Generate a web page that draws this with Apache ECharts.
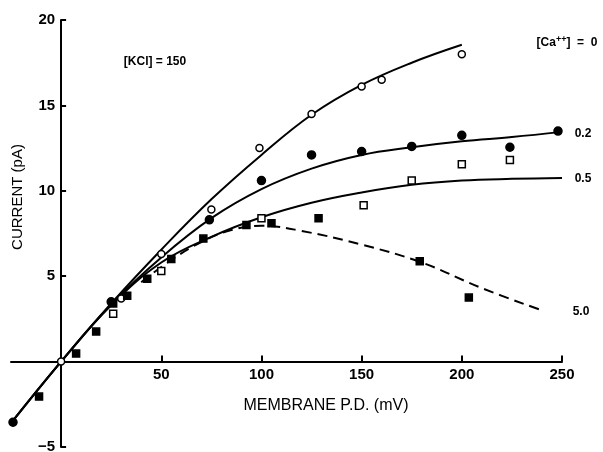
<!DOCTYPE html>
<html>
<head>
<meta charset="utf-8">
<script src="https://cdn.jsdelivr.net/npm/echarts@6/dist/echarts.min.js"></script>
<style>html,body{margin:0;padding:0;background:#fff}#c{width:603px;height:452px}</style>
</head>
<body>
<div id="c"></div>
<script>
// ---- data ----
const xMin = -25, xMax = 250;
const yMin = -5, yMax = 20;
const xTickValues = [50, 100, 150, 200, 250];
const yTickValues = [-5, 5, 10, 15, 20];

// fitted curves [mV, pA]
const curveCa0 = [[-25,-3.6],[0,0],[25,3.4],[50,6.55],[75,9.5],[100,12.1],[125,14.45],[150,16.2],[175,17.5],[200,18.55]];
const curveCa02 = [[-25,-3.6],[0,0],[25,3.35],[50,6.1],[75,8.4],[100,10.1],[125,11.3],[150,12.1],[175,12.55],[200,12.9],[225,13.15],[250,13.45]];
const curveCa05 = [[-25,-3.6],[0,0],[25,3.3],[50,5.8],[75,7.3],[100,8.45],[125,9.3],[150,9.9],[175,10.35],[200,10.6],[225,10.7],[250,10.75]];
const curveCa50 = [[40,4.65],[55,5.95],[70,7.0],[85,7.7],[100,7.95],[120,7.65],[150,6.85],[180,5.8],[210,4.3],[240,3.0]];

// measured points
const pointsCa0 = [[0,0],[30,3.7],[50,6.3],[75,8.9],[99,12.5],[125,14.5],[150,16.1],[160,16.5],[200,18.0]];
const pointsCa02 = [[-24,-3.55],[25,3.5],[74,8.3],[100,10.6],[125,12.1],[150,12.3],[175,12.6],[200,13.25],[224,12.55],[248,13.5]];
const pointsCa05 = [[26,2.8],[50,5.3],[100,8.4],[151,9.15],[175,10.6],[200,11.55],[224,11.8]];
const pointsCa50 = [[-11,-2.05],[7.5,0.47],[17.5,1.76],[26,3.4],[33,3.85],[43,4.85],[55,6.0],[71,7.2],[92.5,8.0],[105,8.1],[128.5,8.4],[179,5.87],[203.5,3.75]];

const W = 603, H = 452;
const grid = { left: 11, right: 41, top: 20, bottom: 5 };
// axes cross at zero: shift each axis from the grid edge to the other axis' zero
const yAxisShift = (0 - xMin) / (xMax - xMin) * (W - grid.left - grid.right);
const xAxisShift = (0 - yMin) / (yMax - yMin) * (H - grid.top - grid.bottom);

const chart = echarts.init(document.getElementById('c'));
const font = '"Liberation Sans", "DejaVu Sans", Arial, sans-serif';
const lineSeries = (data, dashed) => ({
  type: 'line', data, smooth: 0.4, showSymbol: false, symbol: 'none',
  lineStyle: { color: '#000', width: 2, type: dashed ? [10, 6] : 'solid' }, z: 2
});
const pointSeries = (data, symbol, size, fill) => ({
  type: 'scatter', data, symbol, symbolSize: size,
  itemStyle: { color: fill, borderColor: '#000', borderWidth: 1.5, opacity: 1 }, z: 3
});
const tickLabel = v => String(v).replace('-', '\u2212');
chart.setOption({
  animation: false,
  backgroundColor: '#fff',
  grid: Object.assign({ containLabel: false, outerBoundsMode: 'none' }, grid),
  xAxis: {
    type: 'value', min: xMin, max: xMax, offset: -xAxisShift,
    splitLine: { show: false },
    axisLine: { onZero: false, lineStyle: { color: '#000', width: 2 } },
    axisTick: { inside: true, length: 6, customValues: xTickValues, lineStyle: { color: '#000', width: 2 } },
    axisLabel: { customValues: xTickValues, formatter: tickLabel, color: '#000', fontSize: 15, fontWeight: 'bold', fontFamily: font, margin: 6 }
  },
  yAxis: {
    type: 'value', min: yMin, max: yMax, interval: 5, offset: -yAxisShift,
    splitLine: { show: false },
    axisLine: { onZero: false, lineStyle: { color: '#000', width: 2 } },
    axisTick: { inside: true, length: 5, customValues: yTickValues, lineStyle: { color: '#000', width: 2 } },
    axisLabel: { customValues: yTickValues, formatter: tickLabel, color: '#000', fontSize: 15, fontWeight: 'bold', fontFamily: font, margin: 6 }
  },
  graphic: [
    { type: 'text', x: 18, y: 197, rotation: Math.PI / 2,
      style: { text: 'CURRENT (pA)', font: '15px ' + font, fill: '#000', align: 'center', verticalAlign: 'middle' } },
    { type: 'text', x: 326, y: 406,
      style: { text: 'MEMBRANE P.D. (mV)', font: '16px ' + font, fill: '#000', align: 'center', verticalAlign: 'middle' } },
    { type: 'text', x: 155, y: 62,
      style: { text: '[KCl] = 150', font: 'bold 12px ' + font, fill: '#000', align: 'center', verticalAlign: 'middle' } },
    { type: 'text', x: 567, y: 43,
      style: { text: '[Ca{s|++}]  =  0', font: 'bold 12px ' + font, fill: '#000', align: 'center', verticalAlign: 'middle',
        rich: { s: { fontSize: 9, fontWeight: 'bold', fontFamily: font, padding: [0, 0, 6, 0] } } } },
    { type: 'text', x: 583, y: 134,
      style: { text: '0.2', font: 'bold 12px ' + font, fill: '#000', align: 'center', verticalAlign: 'middle' } },
    { type: 'text', x: 583, y: 179,
      style: { text: '0.5', font: 'bold 12px ' + font, fill: '#000', align: 'center', verticalAlign: 'middle' } },
    { type: 'text', x: 581, y: 312,
      style: { text: '5.0', font: 'bold 12px ' + font, fill: '#000', align: 'center', verticalAlign: 'middle' } }
  ],
  series: [
    lineSeries(curveCa0, false),
    lineSeries(curveCa02, false),
    lineSeries(curveCa05, false),
    lineSeries(curveCa50, true),
    pointSeries(pointsCa0, 'circle', 7, '#fff'),
    pointSeries(pointsCa02, 'circle', 8, '#000'),
    pointSeries(pointsCa05, 'rect', 7, '#fff'),
    pointSeries(pointsCa50, 'rect', 7, '#000')
  ]
});
</script>
</body>
</html>
